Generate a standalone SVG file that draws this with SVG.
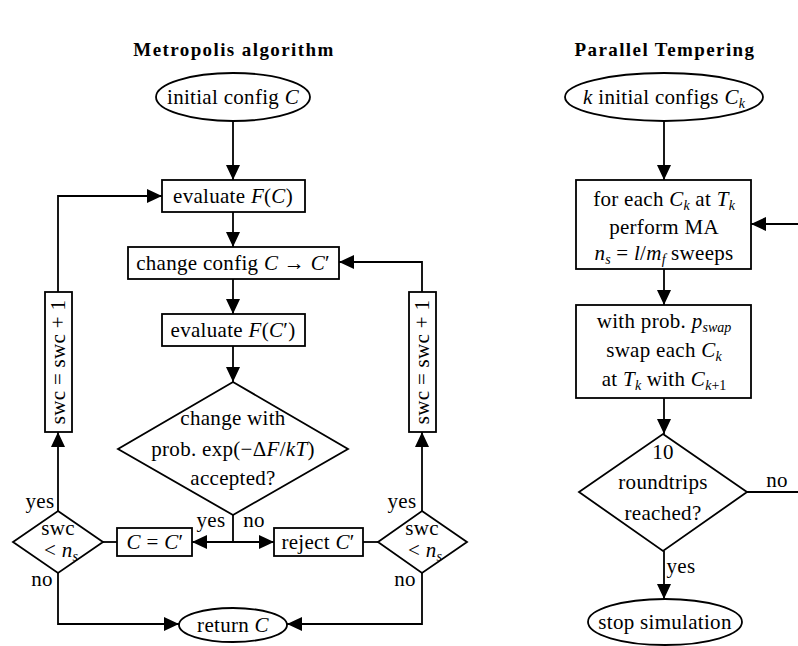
<svg xmlns="http://www.w3.org/2000/svg" width="798" height="646" viewBox="0 0 798 646">
<style>
.s{fill:none;stroke:#000;stroke-width:1.8}
.n{fill:#fff;stroke:#000;stroke-width:1.8}
text{font-family:"Liberation Serif","DejaVu Serif",serif;font-size:21px;letter-spacing:0.3px;fill:#000}
.c{text-anchor:middle}
.t{font-weight:bold;font-size:19px;letter-spacing:1.4px}
.i{font-style:italic}
.sb{font-size:14px;font-style:italic;letter-spacing:0}
</style>
<defs>
<marker id="a" markerUnits="userSpaceOnUse" markerWidth="15" markerHeight="14" refX="15" refY="7" orient="auto">
<path d="M0,0 L15,7 L0,14 z" fill="#000"/>
</marker>
</defs>
<text class="c t" x="234" y="56">Metropolis algorithm</text>
<text class="c t" x="665" y="56">Parallel Tempering</text>
<g id="connectors">
<path class="s" d="M233,121 V180" marker-end="url(#a)"/>
<path class="s" d="M233,212 V247" marker-end="url(#a)"/>
<path class="s" d="M233,279 V314" marker-end="url(#a)"/>
<path class="s" d="M233,346 V382" marker-end="url(#a)"/>
<path class="s" d="M233,515 V542 H192" marker-end="url(#a)"/>
<path class="s" d="M233,542 H274" marker-end="url(#a)"/>
<path class="s" d="M117,542 H103"/>
<path class="s" d="M363,542 H378"/>
<path class="s" d="M58,511 V432" marker-end="url(#a)"/>
<path class="s" d="M58,292 V196 H162" marker-end="url(#a)"/>
<path class="s" d="M422,511 V432" marker-end="url(#a)"/>
<path class="s" d="M422,292 V262 H339" marker-end="url(#a)"/>
<path class="s" d="M58,573 V624 H179" marker-end="url(#a)"/>
<path class="s" d="M422,573 V624 H287" marker-end="url(#a)"/>
<path class="s" d="M664,121 V180" marker-end="url(#a)"/>
<path class="s" d="M798,224 H751" marker-end="url(#a)"/>
<path class="s" d="M664,269 V305" marker-end="url(#a)"/>
<path class="s" d="M664,398 V434" marker-end="url(#a)"/>
<path class="s" d="M747,492 H798"/>
<path class="s" d="M664,551 V599" marker-end="url(#a)"/>
<text x="211" y="527" class="c">yes</text>
<text x="254" y="527" class="c">no</text>
<text x="40" y="508" class="c">yes</text>
<text x="42" y="586" class="c">no</text>
<text x="402" y="508" class="c">yes</text>
<text x="405" y="586" class="c">no</text>
<text x="777" y="487" class="c">no</text>
<text x="681" y="573" class="c">yes</text>
</g>
<g id="init">
<ellipse class="n" cx="233" cy="97" rx="77" ry="24"/>
<text class="c" x="233" y="104">initial config <tspan class="i">C</tspan></text>
</g>
<g id="evalC">
<rect class="n" x="162" y="180" width="143" height="32"/>
<text class="c" x="233" y="203">evaluate <tspan class="i">F</tspan>(<tspan class="i">C</tspan>)</text>
</g>
<g id="change">
<rect class="n" x="128" y="247" width="211" height="32"/>
<text class="c" x="233" y="270">change config <tspan class="i">C</tspan> → <tspan class="i">C</tspan>′</text>
</g>
<g id="evalC2">
<rect class="n" x="162" y="314" width="143" height="32"/>
<text class="c" x="233" y="337">evaluate <tspan class="i">F</tspan>(<tspan class="i">C</tspan>′)</text>
</g>
<g id="accept">
<polygon class="n" points="233,382 348,449 233,515 118,449"/>
<text class="c" x="233" y="425">change with</text>
<text class="c" x="233" y="456">prob. exp(−Δ<tspan class="i">F</tspan>/<tspan class="i">kT</tspan>)</text>
<text class="c" x="233" y="485">accepted?</text>
</g>
<g id="accept-yes">
<rect class="n" x="117" y="528" width="75" height="28"/>
<text class="c" x="155" y="549"><tspan class="i">C</tspan> = <tspan class="i">C</tspan>′</text>
</g>
<g id="reject">
<rect class="n" x="274" y="528" width="89" height="28"/>
<text class="c" x="318" y="549">reject <tspan class="i">C</tspan>′</text>
</g>
<g id="swcL">
<polygon class="n" points="58,511 103,542 58,573 13,542"/>
<text class="c" x="58" y="535">swc</text>
<text class="c" x="61" y="557">&lt; <tspan class="i">n</tspan><tspan class="sb" dy="4">s</tspan></text>
</g>
<g id="swcR">
<polygon class="n" points="422,511 467,542 422,573 378,542"/>
<text class="c" x="422" y="535">swc</text>
<text class="c" x="425" y="557">&lt; <tspan class="i">n</tspan><tspan class="sb" dy="4">s</tspan></text>
</g>
<g id="incL">
<rect class="n" x="45" y="292" width="27" height="140"/>
<text class="c" transform="translate(65,362) rotate(-90)">swc = swc + 1</text>
</g>
<g id="incR">
<rect class="n" x="409" y="292" width="27" height="140"/>
<text class="c" transform="translate(429,362) rotate(-90)">swc = swc + 1</text>
</g>
<g id="ret">
<ellipse class="n" cx="233" cy="625" rx="54" ry="17"/>
<text class="c" x="233" y="632">return <tspan class="i">C</tspan></text>
</g>
<g id="kinit">
<ellipse class="n" cx="664" cy="97" rx="99" ry="24"/>
<text class="c" x="664" y="104"><tspan class="i">k</tspan> initial configs <tspan class="i">C</tspan><tspan class="sb" dy="4">k</tspan></text>
</g>
<g id="ma">
<rect class="n" x="576" y="180" width="175" height="89"/>
<text class="c" x="664" y="206">for each <tspan class="i">C</tspan><tspan class="sb" dy="4">k</tspan><tspan dy="-4"> at </tspan><tspan class="i">T</tspan><tspan class="sb" dy="4">k</tspan></text>
<text class="c" x="664" y="234">perform MA</text>
<text class="c" x="664" y="260"><tspan class="i">n</tspan><tspan class="sb" dy="4">s</tspan><tspan dy="-4"> = </tspan><tspan class="i">l</tspan>/<tspan class="i">m</tspan><tspan class="sb" dy="4">f</tspan><tspan dy="-4"> sweeps</tspan></text>
</g>
<g id="swap">
<rect class="n" x="576" y="305" width="175" height="93"/>
<text class="c" x="664" y="328">with prob. <tspan class="i">p</tspan><tspan class="sb" dy="4">swap</tspan></text>
<text class="c" x="664" y="357">swap each <tspan class="i">C</tspan><tspan class="sb" dy="4">k</tspan></text>
<text class="c" x="664" y="386">at <tspan class="i">T</tspan><tspan class="sb" dy="4">k</tspan><tspan dy="-4"> with </tspan><tspan class="i">C</tspan><tspan class="sb" dy="4">k</tspan><tspan style="font-size:14px;letter-spacing:0">+1</tspan></text>
</g>
<g id="rt">
<polygon class="n" points="663,434 747,492 663,551 579,492"/>
<text class="c" x="663" y="459">10</text>
<text class="c" x="663" y="489">roundtrips</text>
<text class="c" x="663" y="520">reached?</text>
</g>
<g id="stop">
<ellipse class="n" cx="665" cy="622" rx="77" ry="23"/>
<text class="c" x="665" y="629">stop simulation</text>
</g>
</svg>
